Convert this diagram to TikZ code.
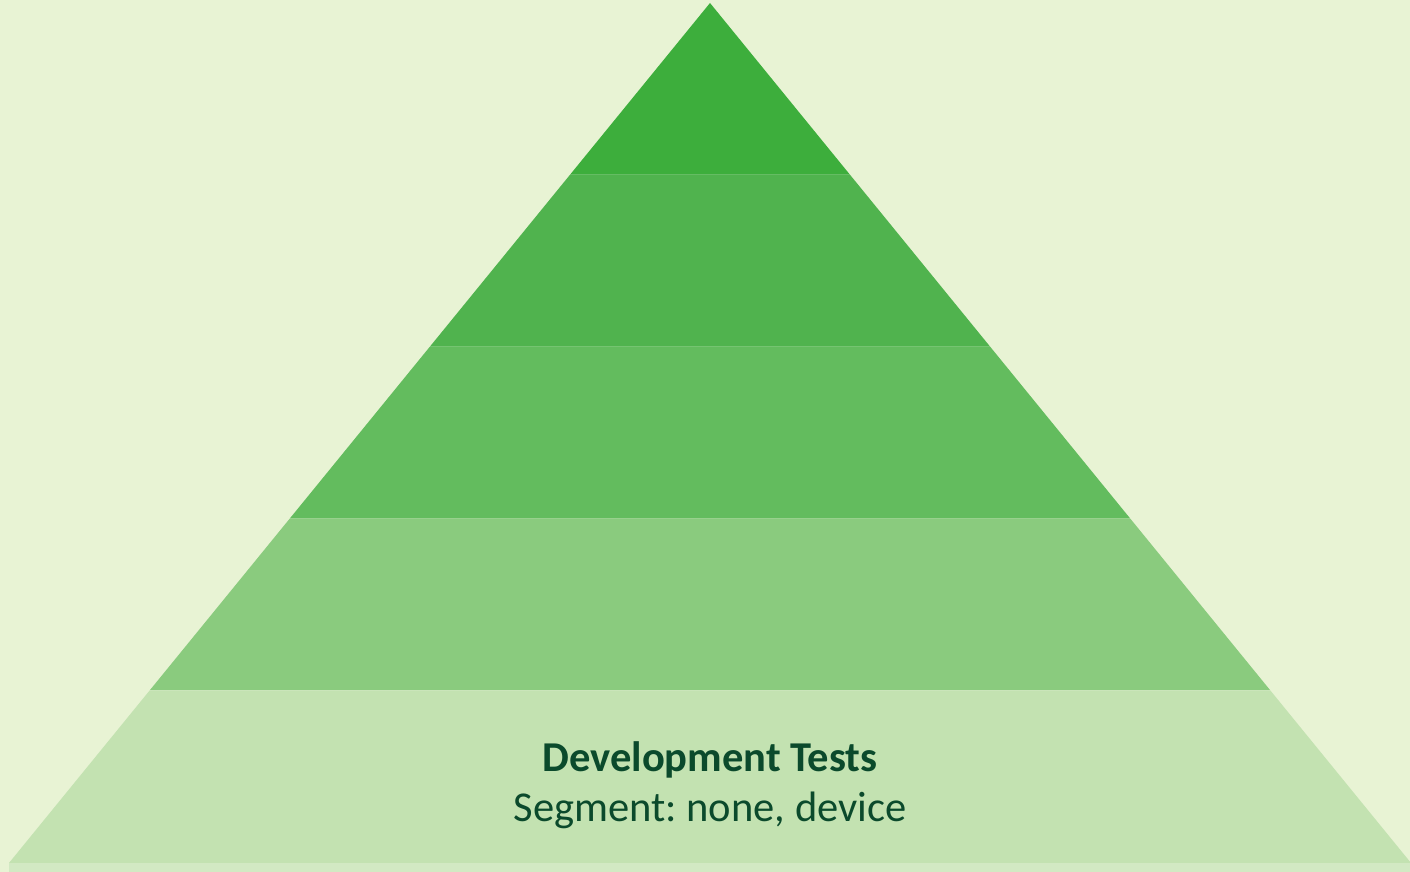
\documentclass[tikz,border=0pt]{standalone}
\usepackage{fontspec}
\setmainfont{Carlito}
\frenchspacing
\definecolor{bg}{HTML}{E8F3D4}
\definecolor{layerA}{HTML}{3DAE3C}
\definecolor{layerB}{HTML}{50B34E}
\definecolor{layerC}{HTML}{63BC5E}
\definecolor{layerD}{HTML}{8ACB7E}
\definecolor{layerE}{HTML}{C3E2B1}
\definecolor{baseband}{HTML}{D2E9C3}
\definecolor{sep}{HTML}{FFFFFF}
\definecolor{ink}{HTML}{0B4A2C}
\begin{document}
\begin{tikzpicture}[x=0.05cm,y=-0.05cm,
  label text/.style={text=ink,font=\fontsize{60.5}{71}\selectfont,align=center}]
  % canvas in pixel units, y growing downward
  \fill[bg] (0,0) rectangle (1410,872);
  \useasboundingbox (0,0) rectangle (1410,872);
  % corners of the pyramid
  \coordinate (apex) at (710,3);
  \coordinate (bl) at (9,863);
  \coordinate (br) at (1411,863);
  % light strip under the base
  \fill[baseband] (9,863) rectangle (1410,872);
  \begin{scope}
    \clip (apex) -- (bl) -- (br) -- cycle;
    \fill[layerA] (0,0) rectangle (1410,174);
    \fill[layerB] (0,174) rectangle (1410,346);
    \fill[layerC] (0,346) rectangle (1410,518);
    \fill[layerD] (0,518) rectangle (1410,690);
    \fill[layerE] (0,690) rectangle (1410,863);
    \foreach \yy in {174,346,518,690}
      \draw[sep,opacity=0.12,line width=1.2pt] (0,\yy) -- (1410,\yy);
  \end{scope}
  \node[label text] (dev) at (710,785.5)
    {\textbf{Development Tests}\\Segment: none, device};
\end{tikzpicture}
\end{document}
